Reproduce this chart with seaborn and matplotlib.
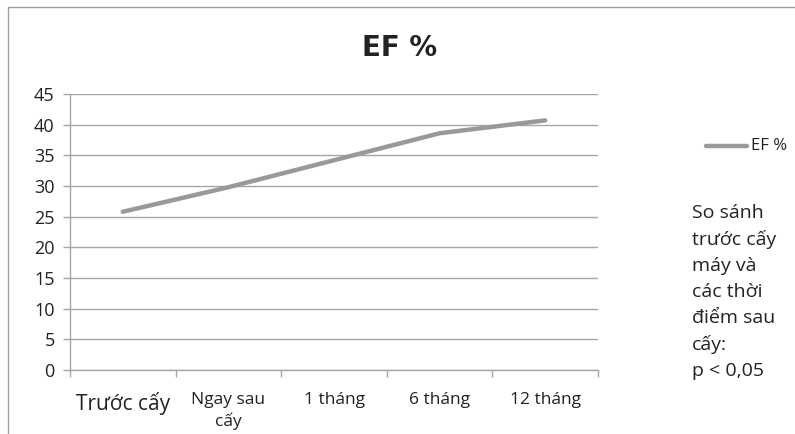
import matplotlib
matplotlib.use("Agg")
import matplotlib.pyplot as plt
import seaborn as sns
import pandas as pd
from matplotlib.patches import Rectangle
from matplotlib.lines import Line2D

# Data
categories = ["Trước cấy", "Ngay sau\ncấy", "1 tháng", "6 tháng", "12 tháng"]
ef_values = [25.8, 29.8, 34.2, 38.6, 40.7]
y_ticks = [0, 5, 10, 15, 20, 25, 30, 35, 40, 45]
series_name = "EF %"
note = "So sánh\ntrước cấy\nmáy và\ncác thời\nđiểm sau\ncấy:\np < 0,05"

df = pd.DataFrame({"moc": categories, "ef": ef_values})

sns.set_theme(style="white")
plt.rcParams["font.family"] = ["Open Sans", "DejaVu Sans"]

fig = plt.figure(figsize=(7.95, 4.34), dpi=100)
ax = fig.add_axes([70 / 795, 1 - 370 / 434, 528 / 795, 276 / 434])

grid_c = "#a6a6a6"
line_c = "#999999"

sns.lineplot(data=df, x="moc", y="ef", ax=ax, color=line_c, linewidth=3.2,
             solid_capstyle="round", sort=False, legend=False)

ax.set_xlim(-0.5, len(categories) - 0.5)
ax.set_ylim(0, 45)
ax.set_yticks(y_ticks)
ax.yaxis.grid(True, color=grid_c, linewidth=1)
ax.set_axisbelow(True)
for s in ["top", "right"]:
    ax.spines[s].set_visible(False)
for s in ["left", "bottom"]:
    ax.spines[s].set_color(grid_c)
    ax.spines[s].set_linewidth(1)

ax.set_xlabel("")
ax.set_ylabel("")
ax.tick_params(axis="y", which="major", length=5, color=grid_c, width=1,
               direction="out", left=True, labelsize=13, labelcolor="#222222", pad=6)
# category boundary ticks
ax.set_xticks([i - 0.5 for i in range(len(categories) + 1)], minor=True)
ax.tick_params(axis="x", which="minor", length=5, color=grid_c, width=1,
               direction="out", bottom=True)
ax.tick_params(axis="x", which="major", length=0, labelsize=12.5,
               labelcolor="#222222", pad=16)
ax.set_xticks(range(len(categories)))
ax.set_xticklabels(categories, linespacing=1.35)
ax.get_xticklabels()[0].set_fontsize(15)

# title
fig.text(400 / 795, 1 - 48 / 434, "EF %", ha="center", va="center",
         fontsize=20, fontweight="bold", color="#222222",
         family=["Liberation Sans Narrow", "DejaVu Sans"])

# legend
fig.add_artist(Line2D([706 / 795, 747 / 795], [1 - 146 / 434, 1 - 146 / 434],
                      color=line_c, linewidth=3.2, solid_capstyle="round"))
fig.text(751 / 795, 1 - 146 / 434, series_name, ha="left", va="center",
         fontsize=12, color="#222222")

# note
fig.text(692 / 795, 1 - 204 / 434, note, ha="left", va="top",
         fontsize=14, color="#222222", linespacing=1.56)

# chart border
fig.add_artist(Rectangle((8 / 795, -0.05), 1.0, 1 - 7 / 434 + 0.05,
                         transform=fig.transFigure, fill=False,
                         edgecolor="#a0a0a0", linewidth=1))

fig.savefig("out.png", dpi=100)
